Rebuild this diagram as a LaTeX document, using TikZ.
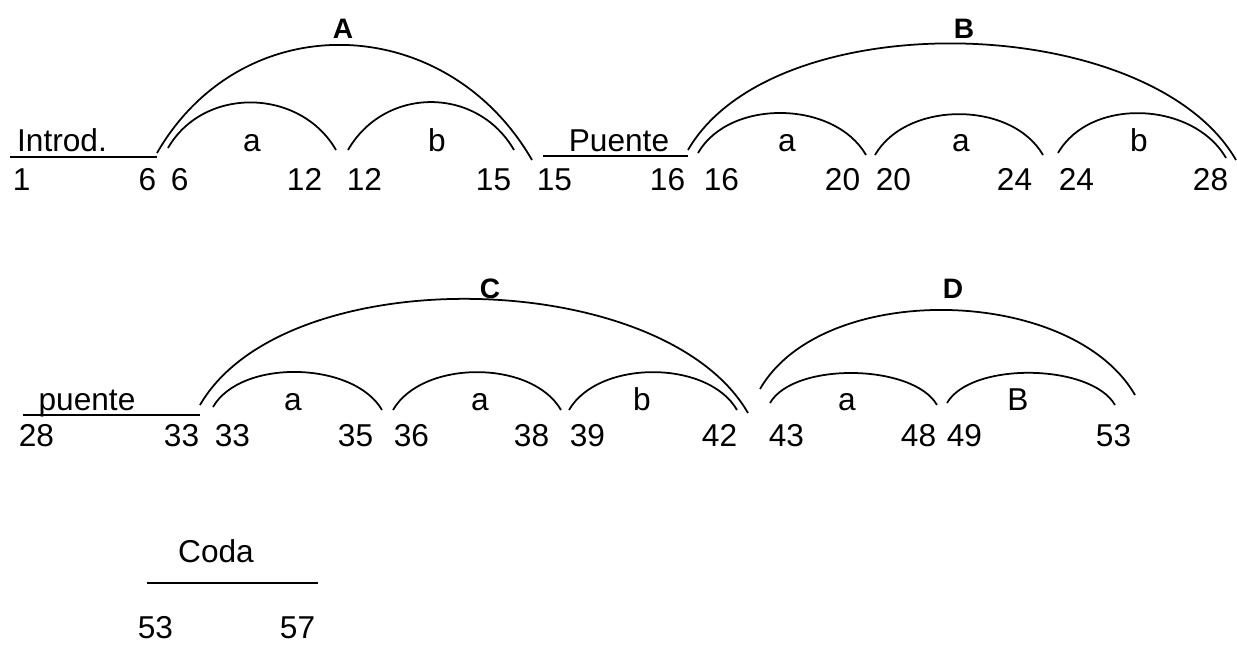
\documentclass[tikz,border=0pt]{standalone}
\usepackage{fontspec}
\setmainfont{Liberation Sans}
\begin{document}
\begin{tikzpicture}[
            x=0.02cm, y=-0.02cm, line width=1pt,
            num/.style={inner sep=0pt, font=\fontsize{18}{20}\selectfont},
            part/.style={inner sep=0pt, anchor=base, font=\fontsize{18}{20}\selectfont},
            sect/.style={inner sep=0pt, anchor=base, font=\fontsize{16}{18}\selectfont\bfseries},
            bow/.style={out=60, in=120, looseness=#1}
            ]
            \useasboundingbox (0,0) rectangle (1237,646);

            % first row
            \node[part] (intro) at (62,151) {Introd.};
            \node[part] (pte1) at (619,151) {Puente};
            \node[part] (a1) at (252,151) {a};
            \node[part] (b1) at (437,151) {b};
            \node[part] (a2) at (787,151) {a};
            \node[part] (a3) at (961,151) {a};
            \node[part] (b2) at (1139,151) {b};
            \node[sect] (A) at (343,38) {A};
            \node[sect] (B) at (964,38) {B};

            \node[num, anchor=base west] (m1) at (12,190) {1};
            \node[num, anchor=base east] (m6) at (157,190) {6};
            \node[num, anchor=base west] (m6b) at (170,190) {6};
            \node[num, anchor=base east] (m12) at (323,190) {12};
            \node[num, anchor=base west] (m12b) at (346,190) {12};
            \node[num, anchor=base east] (m15) at (512,190) {15};
            \node[num, anchor=base west] (m15b) at (536,190) {15};
            \node[num, anchor=base east] (m16) at (686,190) {16};
            \node[num, anchor=base west] (m16b) at (703,190) {16};
            \node[num, anchor=base east] (m20) at (861,190) {20};
            \node[num, anchor=base west] (m20b) at (875,190) {20};
            \node[num, anchor=base east] (m24) at (1033,190) {24};
            \node[num, anchor=base west] (m24b) at (1058,190) {24};
            \node[num, anchor=base east] (m28) at (1229,190) {28};

            \coordinate (introL) at (10,157);
            \coordinate (introR) at (157,157);
            \coordinate (pteL) at (543,156);
            \coordinate (pteR) at (688,156);
            \draw (introL) -- (introR);
            \draw (pteL) -- (pteR);

            \coordinate (Al) at (157,153);
            \coordinate (Ar) at (532,160);
            \coordinate (a1l) at (168,148);
            \coordinate (a1r) at (336,150);
            \coordinate (b1l) at (348,150);
            \coordinate (b1r) at (514,150);
            \coordinate (Bl) at (688,150);
            \coordinate (Br) at (1236,160);
            \coordinate (a2l) at (698,153);
            \coordinate (a2r) at (866,155);
            \coordinate (a3l) at (875,155);
            \coordinate (a3r) at (1043,155);
            \coordinate (b2l) at (1058,153);
            \coordinate (b2r) at (1226,158);

            \draw (Al) to[bow=1.17] (Ar);
            \draw (a1l) to[bow=1.09] (a1r);
            \draw (b1l) to[bow=1.14] (b1r);
            \draw (Bl) to[bow=0.80] (Br);
            \draw (a2l) to[bow=0.96] (a2r);
            \draw (a3l) to[bow=0.96] (a3r);
            \draw (b2l) to[bow=0.99] (b2r);

            % second row
            \node[part] (pte2) at (87,410) {puente};
            \node[part] (a4) at (293,410) {a};
            \node[part] (a5) at (480,410) {a};
            \node[part] (b3) at (642,410) {b};
            \node[part] (a6) at (847,410) {a};
            \node[part] (B2) at (1018,410) {B};
            \node[sect] (C) at (490,298) {C};
            \node[sect] (D) at (953,298) {D};

            \node[num, anchor=base west] (m28b) at (18,446) {28};
            \node[num, anchor=base east] (m33) at (200,446) {33};
            \node[num, anchor=base west] (m33b) at (214,446) {33};
            \node[num, anchor=base east] (m35) at (374,446) {35};
            \node[num, anchor=base west] (m36) at (393,446) {36};
            \node[num, anchor=base east] (m38) at (550,446) {38};
            \node[num, anchor=base west] (m39) at (569,446) {39};
            \node[num, anchor=base east] (m42) at (738,446) {42};
            \node[num, anchor=base west] (m43) at (768,446) {43};
            \node[num, anchor=base east] (m48) at (937,446) {48};
            \node[num, anchor=base west] (m49) at (946,446) {49};
            \node[num, anchor=base east] (m53) at (1132,446) {53};

            \coordinate (pte2L) at (23,415);
            \coordinate (pte2R) at (200,415);
            \draw (pte2L) -- (pte2R);

            \coordinate (Cl) at (200,405);
            \coordinate (Cr) at (748,413);
            \coordinate (a4l) at (213,407);
            \coordinate (a4r) at (382,410);
            \coordinate (a5l) at (393,410);
            \coordinate (a5r) at (561,410);
            \coordinate (b3l) at (569,410);
            \coordinate (b3r) at (737,410);
            \coordinate (Dl) at (760,389);
            \coordinate (Dr) at (1135,395);
            \coordinate (a6l) at (770,403);
            \coordinate (a6r) at (937,405);
            \coordinate (B2l) at (947,403);
            \coordinate (B2r) at (1115,405);

            \draw (Cl) to[bow=0.79] (Cr);
            \draw (a4l) to[bow=0.85] (a4r);
            \draw (a5l) to[bow=0.89] (a5r);
            \draw (b3l) to[bow=0.89] (b3r);
            \draw (Dl) to[bow=0.86] (Dr);
            \draw (a6l) to[bow=0.73] (a6r);
            \draw (B2l) to[bow=0.73] (B2r);

            % coda
            \node[part] (coda) at (216,562) {Coda};
            \node[num, anchor=base west] (m53b) at (137,638) {53};
            \node[num, anchor=base east] (m57) at (316,638) {57};
            \coordinate (codaL) at (147,583);
            \coordinate (codaR) at (318,583);
            \draw (codaL) -- (codaR);

            \end{tikzpicture}
\end{document}
